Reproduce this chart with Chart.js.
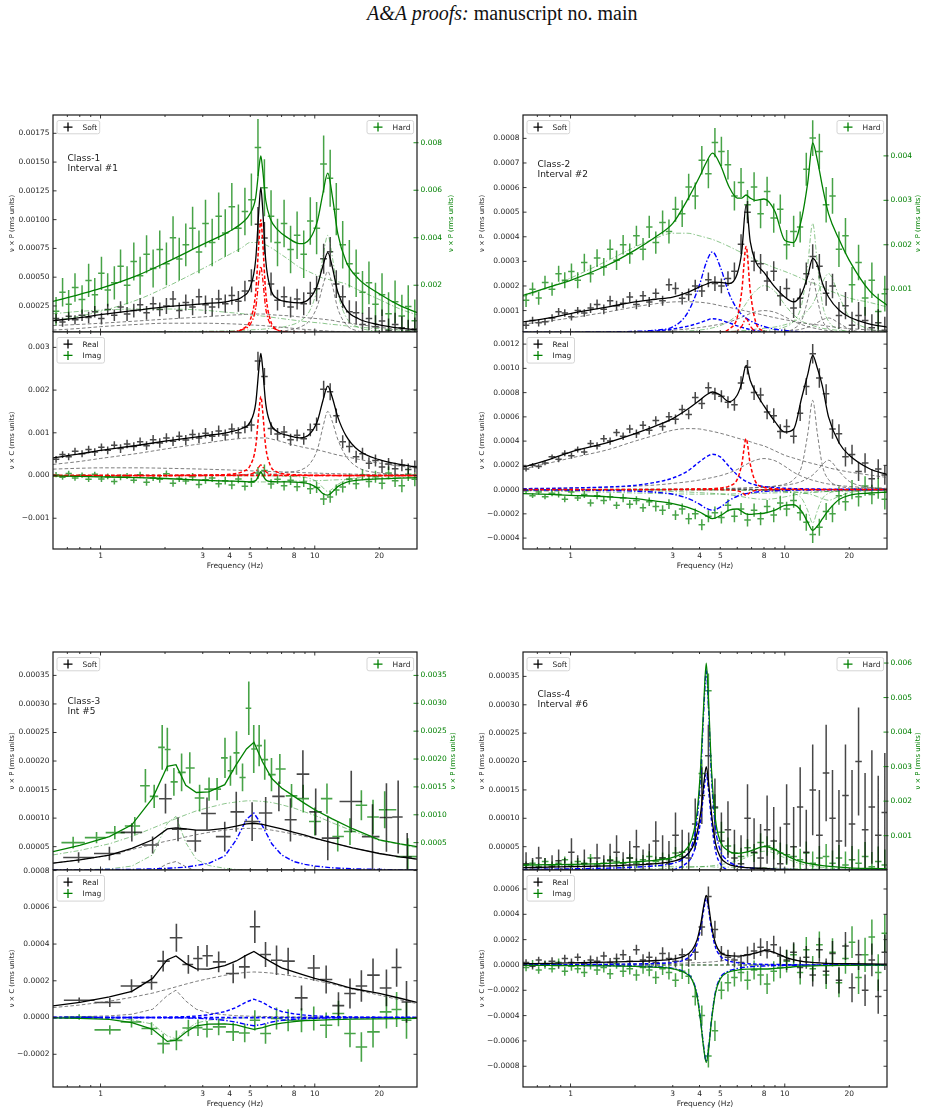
<!DOCTYPE html>
<html>
<head>
<meta charset="utf-8">
<script src="https://cdn.jsdelivr.net/npm/chart.js@4.4.0/dist/chart.umd.min.js"></script>
<style>
  body { margin: 0; width: 927px; height: 1113px; overflow: hidden; background: #fff; position: relative; }
  canvas { position: absolute; }
  #title { position: absolute; left: 367px; top: 2px; font-family: 'Liberation Serif', serif; font-size: 20px; white-space: nowrap; color: #111; }
</style>
</head>
<body>
<div id="title"><i>A&amp;A proofs:</i> manuscript no. main</div>
<script>
// units: soft power / cross values are in 1e-5, hard power in 1e-4 (rms units)
const U5 = 1e-5, U4 = 1e-4;

// frequency bins (Hz) of the dense spectra (classes 1, 2 and 4)
const freq = [0.62,0.665,0.71,0.76,0.82,0.88,0.94,1.01,1.08,1.16,1.24,1.33,1.43,1.53,1.64,1.76,1.89,2.03,2.18,2.33,2.50,2.69,2.88,3.09,3.32,3.56,3.82,4.10,4.40,4.72,5.06,5.43,5.82,6.25,6.70,7.19,7.71,8.27,8.88,9.53,10.2,11.0,11.8,12.6,13.5,14.5,15.6,16.7,17.9,19.2,20.6,22.1,23.7,25.5,27.3,29.3];
const zeroX = [0.6, 30], zeroY = [0, 0];

// ---------- Class-1, interval #1 ----------
const c1Soft = [14,11,16,13,17,15,20,14,22,17,24,18,21,26,19,27,22,25,31,21,28,24,33,26,24,31,27,34,29,38,47,96,84,44,30,33,24,31,27,36,40,66,72,44,33,20,19,9,14,7,12,4,9,6,3,5];
const c1SoftErr = [4,4,4,4,5,5,5,5,5,5,5,6,6,6,6,6,6,7,7,7,7,7,7,8,8,8,8,8,9,9,10,15,14,10,9,9,9,9,10,10,11,13,13,12,10,10,10,10,10,10,10,10,10,10,10,10];
const c1Hard = [9,17,12,19,14,22,16,25,18,21,28,20,30,24,33,27,35,29,40,31,37,44,34,46,38,49,42,53,44,51,56,78,61,49,38,46,35,41,33,47,44,71,65,52,37,29,25,17,21,12,16,8,13,7,11,5];
const c1HardErr = [6,6,6,6,6,7,7,7,7,7,7,8,8,8,8,8,8,9,9,9,9,9,9,10,10,10,10,10,10,10,11,12,12,11,10,10,10,10,10,10,11,12,12,11,10,10,10,9,9,9,9,9,9,9,9,9];
const c1Real = [38,49,44,57,51,61,55,66,59,71,63,74,68,79,70,84,76,88,80,92,83,96,88,99,92,104,95,109,100,113,118,268,232,110,97,102,84,94,86,107,120,202,196,140,79,68,44,51,29,35,20,27,16,24,14,21];
const c1RealErr = [8,8,8,8,8,9,9,9,9,9,10,10,10,10,10,11,11,11,11,11,12,12,12,12,12,13,13,13,13,14,15,22,20,15,14,14,14,14,14,15,16,20,20,17,15,14,14,14,14,14,14,14,14,14,14,14];
const c1Imag = [2,-4,5,-6,1,-9,3,-8,-2,-14,-4,-1,-11,2,-16,-5,-9,4,-18,-7,-13,-3,-21,-10,-6,-19,-12,-22,-8,-25,-16,6,12,-20,-9,-24,-11,-26,-15,-31,-28,-55,-50,-34,-27,-8,-19,2,-14,-3,-18,6,-12,-24,3,-9];
const c1ImagErr = [6,6,6,6,6,6,6,7,7,7,7,7,7,7,8,8,8,8,8,8,8,9,9,9,9,9,9,10,10,10,11,14,14,11,11,11,11,11,12,12,13,14,14,13,13,13,13,13,14,14,14,15,15,15,16,16];
const c1ModelF = [0.6,0.8,1,1.5,2,3,4,4.6,5,5.3,5.5,5.6,5.7,5.9,6.2,6.7,7.5,8.5,9.5,10.3,10.9,11.5,12.1,12.8,14,16,20,25,30];
const c1SoftFit = [12.2,14.8,17.4,21.5,24.2,26.9,29.3,33.1,41.4,65.4,112,128,112,65.2,40.6,31.2,28.6,27.7,31.9,43.5,59.5,71.4,58,37.1,21.8,13.9,8.6,5.7,4.3];
const c1SoftBroadA = [8,9,10,12,13.5,15.5,17,17.5,18,18,18,18,18,18,17.5,17,16.5,15.5,14.5,14,13.5,13,12.5,11.5,10.5,9,6.5,4.5,3.5];
const c1SoftBroadB = [4,5.5,7,9,10,10,9.5,9,8.5,8.3,8.1,8,8,7.7,7.3,6.8,6,5,4.3,3.8,3.5,3.2,3,2.7,2.3,1.8,1.2,0.8,0.5];
const c1SoftQpo = [0,0,0,0,0.1,0.5,1.5,5,13,37,84,100,84,37,13,4.2,1.5,0.7,0.4,0.3,0.2,0.2,0.2,0.1,0.1,0,0,0,0];
const c1SoftHump = [0.2,0.3,0.3,0.4,0.5,0.8,1.1,1.4,1.6,1.8,1.9,1.9,2,2.1,2.4,2.7,3.9,6.5,12.7,25.4,42.3,55,42.3,22.8,8.9,3.1,0.9,0.4,0.3];
const c1HardFit = [13.2,16.2,18.7,24.3,29.4,37.2,42.7,46.4,50.3,57,70.1,74.5,69.5,55.9,48,43.4,39.9,37.5,39.6,47.2,58.5,67.2,57,41.8,30,22.7,16.4,11.4,8.5];
const c1HardBroadA = [5,7,9,14,19,27,33,36,38,38,38,38,37.5,37,36,34,31,27.5,25.5,24,23,22.5,22,21.5,20.5,18,14,10,7.5];
const c1HardBroadB = [8,9,9.5,10,10,9.5,8.5,8,7.5,7.3,7.2,7.1,7,6.9,6.6,6.2,5.6,5,4.5,4.2,4,3.7,3.5,3.3,2.9,2.4,1.7,1.1,0.8];
const c1HardHump = [0.15,0.2,0.2,0.3,0.4,0.6,0.8,1,1.2,1.3,1.4,1.4,1.5,1.6,1.8,2,2.9,4.8,9.5,19,31.5,41,31.5,17,6.6,2.3,0.7,0.3,0.2];
const c1HardQpo = [0,0,0,0,0,0.1,0.4,1.4,3.6,10.4,23.5,28,23.5,10.4,3.6,1.2,0.4,0.2,0.1,0,0,0,0,0,0,0,0,0,0];
const c1RealFit = [41.5,50.6,58.7,70.9,80.3,92.4,101.8,110.6,125.6,169,256,286,256,169,122.4,102.6,93.8,88.3,97.9,128.2,174.6,209.2,180.9,137.3,92.8,58.9,37,25.9,19.5];
const c1RealBroadA = [26,33,40,52,62,75,84,87,88,88,88,88,88,88,86,82,75,68,63,60,57,54,51,48,44,38,29,22,17];
const c1RealBroadB = [15,17,18,18,17,15,13,12,11,10.5,10.3,10.2,10,9.8,9.4,8.8,8,7,6.2,5.6,5.2,4.8,4.5,4.1,3.6,2.9,2,1.4,1];
const c1RealQpo = [0,0,0,0,0.2,0.9,2.8,9.3,24,68,155,185,155,68,24,7.8,2.8,1.3,0.7,0.6,0.4,0.4,0.4,0.2,0.2,0,0,0,0];
const c1RealHump = [0.5,0.6,0.7,0.9,1.1,1.5,2,2.3,2.6,2.8,2.9,3,3,3,3,4,8,12,28,62,112,150,125,85,45,18,6,2.5,1.5];
const c1ImagFit = [-1,-2,-3,-5,-7,-11,-13,-14,-15,-12,2,9,2,-10,-14,-15,-15,-16,-20,-30,-42,-46,-38,-26,-16,-11,-8,-6,-5];
const c1ImagQpo = [0,0,0,0,0,0.1,0.4,1.3,3.3,9.3,21,25,21,9.3,3.3,1,0.4,0.2,0.1,0,0,0,0,0,0,0,0,0,0];
const c1ImagBroad = [-1,-2,-3,-5,-7,-11,-13,-14,-15,-15,-15,-15,-15,-15,-14.5,-14,-13.5,-13,-12.5,-12,-11.5,-11,-10.5,-10,-9,-8,-6.5,-5,-4];
const c1ImagHump = [-0.1,-0.2,-0.2,-0.2,-0.3,-0.4,-0.5,-0.6,-0.7,-0.7,-0.7,-0.8,-0.8,-0.8,-0.8,-1,-2,-3,-7,-15.5,-28,-37.5,-31,-21,-11,-4.5,-1.5,-0.6,-0.4];

// ---------- Class-2, interval #2 ----------
const c2Soft = [4,6,5,5.5,7,9.5,9,7.5,10,9,11,12.5,10.5,14,12,13,15.5,12.5,16,13.5,17,14,20.5,19,15,16.5,20,18,22.5,21,20,23,26,37,50,30,29,22,26,16,19,11,15,25,32,28,17,20,8,12,4,8,6,3,5,2];
const c2SoftErr = [1.5,1.5,1.5,1.5,1.5,1.5,1.5,1.5,1.5,1.5,2,2,2,2,2,2,2,2,2,2,2,2,2.5,2.5,2.5,2.5,2.5,2.5,3,3,3,3,3.5,4,4.5,4,4,4,4,4,4,4,4,4.5,5,5,5,5,5.5,5.5,5.5,5.5,5.5,5.5,5.5,5.5];
const c2Hard = [7.5,10,8,11.5,10,13.5,12,14,12,16,13.5,17,15,19,16.5,20,18,22,19,24,20.5,25,23,28,27,33,31,39,36,43,41,38,31,34,29,33,27,32,26,28,20,23,24,37,44,41,29,31,19,22,11,16,8,12,5,9];
const c2HardErr = [1.5,1.5,1.5,1.5,1.5,1.8,1.8,1.8,1.8,2,2,2,2,2.2,2.2,2.2,2.3,2.3,2.5,2.5,2.5,2.7,2.7,2.8,3,3,3,3.2,3.3,3.3,3.3,3.3,3.3,3.3,3.3,3.3,3.3,3.3,3.3,3.3,3.3,3.5,3.5,3.7,4,4,4,4,4,4,4,4,4,4,4,4];
const c2Real = [17,20,19,22,27,25,30,28,33,31,38,36,42,40,47,44,50,46,53,49,57,52,60,58,66,62,76,71,84,79,77,72,70,88,101,80,78,64,61,48,52,44,63,85,112,92,79,50,46,27,29,15,22,9,17,12];
const c2RealErr = [2,2,2,2,2,2.5,2.5,2.5,2.5,2.5,3,3,3,3,3,3,3.5,3.5,3.5,3.5,3.5,3.5,4,4,4,4,4.5,4.5,4.5,5,5,5,5,5.5,6,6,6,6,6,6,6,6,6.5,7,8,8,8,8,8,8,8,8,8,8,8,8];
const c2Imag = [-1,-5,-2,-6,-3,-4,-8,-2,-7,-4,-11,-5,-9,-6,-13,-7,-12,-9,-15,-10,-14,-17,-12,-21,-16,-24,-20,-29,-22,-19,-23,-13,-22,-16,-25,-17,-24,-14,-21,-11,-16,-9,-19,-27,-37,-31,-18,-20,-5,-10,0,-6,3,-4,1,-8];
const c2ImagErr = [2,2,2,2,2.5,2.5,2.5,2.5,2.5,3,3,3,3,3,3,3.5,3.5,3.5,3.5,3.5,4,4,4,4,4.5,4.5,4.5,4.5,5,5,5,5,5,5,5.5,5.5,5.5,5.5,6,6,6,6,6.5,7,7,7,7,7,7.5,7.5,8,8,8,8,8.5,8.5];
const c2ModelF = [0.6,0.8,1,1.5,2,2.5,3,3.5,4,4.3,4.6,5,5.5,6,6.3,6.6,6.9,7.3,8,9,10,11,12,12.8,13.5,14.2,15,16,18,20,25,30];
const c2SoftFit = [5.4,7,8.8,11.5,13.5,14.6,15.5,17.3,19.6,20.7,21.6,21.5,21,25,34,53,38,30,25.5,19.5,15.5,13.5,17,24,31.2,28.5,21,15.5,10,7.4,4.5,3.3];
const c2SoftBroad = [4.5,5.8,7,9.5,11.5,12.8,13.5,13.6,13.4,13.1,12.7,12,11.3,10.6,10.2,9.8,9.4,8.9,8.1,7.1,6.3,5.6,5,4.7,4.4,4.2,4,3.6,3.1,2.7,2.1,1.7];
const c2SoftBlue = [0.3,0.4,0.5,0.8,1.2,1.7,2.5,3.6,5,6,6.7,6.2,5,3.8,3.2,2.7,2.3,1.9,1.4,1,0.8,0.6,0.5,0.4,0.4,0.3,0.3,0.3,0.2,0.2,0.1,0.1];
const c2SoftRed = [0,0,0,0,0.1,0.1,0.2,0.3,0.4,0.5,0.7,1.1,2.5,7.2,18,36,18,5.6,1.6,0.6,0.3,0.2,0.2,0.1,0.1,0.1,0.1,0,0,0,0,0];
const c2SoftMid = [0.3,0.4,0.5,0.8,1.1,1.5,2,2.5,3.1,3.5,3.9,4.5,5.4,6.5,7.3,8.1,8.8,9.5,10,9.3,7.5,5.6,4.3,3.5,3,2.6,2.2,1.8,1.3,1,0.6,0.4];
const c2SoftQpo = [0,0,0,0,0.1,0.1,0.1,0.1,0.2,0.2,0.2,0.2,0.3,0.3,0.3,0.4,0.4,0.5,0.6,0.9,1.4,2.6,6.1,14.4,23,14.4,6.1,2.6,0.9,0.4,0.2,0.1];
const c2SoftHigh = [0,0,0,0,0,0,0.1,0.1,0.1,0.1,0.2,0.2,0.3,0.3,0.4,0.4,0.5,0.6,0.8,1.1,1.4,1.9,2.5,3.2,4.1,5.1,6.3,7,4.8,2.5,0.7,0.3];
const c2HardFit = [8.6,10.5,12,15.5,18.8,21.8,24.8,30,35.3,38.5,40.6,38,33,30.5,30.5,31.2,30.5,30,30.3,27.5,21,20.5,26,34,42.9,39,33,27,21,16.5,9.5,6.4];
const c2HardBroad = [8.3,10.5,12.5,16.5,19.5,21.5,22.6,22.6,22,21.6,21.2,20.5,19.6,18.7,18.2,17.7,17.2,16.6,15.8,14.8,14,13.2,12.4,11.8,11.4,11,10.5,9.8,8.8,8,7,6];
const c2HardBlue = [0.3,0.3,0.3,0.4,0.5,0.8,1.5,4.5,11,16,18.4,15,9,5.5,4.3,3.5,2.9,2.3,1.6,1,0.7,0.5,0.4,0.3,0.3,0.3,0.2,0.2,0.2,0.1,0.1,0.1];
const c2HardRed = [0,0,0,0,0,0,0,0,0,0,0.1,0.1,0.2,0.7,1.7,3.4,1.7,0.5,0.2,0.1,0,0,0,0,0,0,0,0,0,0,0,0];
const c2HardMid = [0,0,0,0.1,0.2,0.3,0.4,0.6,0.8,1,1.3,1.8,2.8,4.2,5.4,6.8,8.2,9.6,10.8,9.5,6.5,4.2,2.8,2.2,1.8,1.5,1.2,1,0.7,0.5,0.3,0.2];
const c2HardQpo = [0,0,0,0,0.1,0.1,0.1,0.1,0.2,0.2,0.2,0.2,0.3,0.3,0.3,0.4,0.4,0.5,0.6,1,1.5,2.8,6.6,15.6,24.8,15.6,6.6,2.8,1,0.4,0.2,0.1];
const c2HardHigh = [0,0,0,0.1,0.1,0.1,0.2,0.2,0.3,0.3,0.3,0.4,0.5,0.6,0.7,0.7,0.8,1,1.2,1.5,2,2.7,3.8,5.2,6.7,8.9,11.6,13.5,8.2,3.8,1,0.4];
const c2RealFit = [18.6,25,31,39,46.2,52.5,58.6,66,73.6,78,80.5,78,72.5,78,88,102.5,90,80.5,69,56,47.5,50,76,95,110.8,100,85,60,38,28.3,17,12.6];
const c2RealBroad = [17,22,26,33,40,45,49,50.3,50,49,48,46.5,44.5,42.5,41.5,40.5,39.5,38,36,32,28.3,26,24,22.5,21.5,20.5,19.5,18,16,14.5,12,10];
const c2RealBlue = [0.8,1,1.3,2.2,3.5,6,9.5,15,23,27,29.1,27,19,12,9,6.8,5.2,3.8,2.5,1.6,1.1,0.8,0.7,0.6,0.5,0.5,0.4,0.4,0.3,0.3,0.2,0.2];
const c2RealRed = [0,0,0,0,0.1,0.1,0.2,0.4,0.5,0.6,0.8,1.3,2.9,8.4,21,42,21,6.5,1.9,0.7,0.4,0.2,0.2,0.1,0.1,0.1,0.1,0,0,0,0,0];
const c2RealMid = [0.8,1,1.3,2,2.8,3.8,5.1,6.4,7.9,9,10,11.5,13.8,16.6,18.7,20.7,22.5,24.3,25.6,23.8,19.2,14.3,11,9,7.7,6.7,5.6,4.6,3.3,2.6,1.5,1];
const c2RealQpo = [0,0,0,0,0.3,0.3,0.3,0.3,0.6,0.6,0.6,0.6,1,1,1,1.3,1.3,1.6,1.9,2.9,4.5,8.3,19.5,46,73.6,46,19.5,8.3,2.9,1.3,0.6,0.3];
const c2RealHigh = [0,0,0,0.2,0.2,0.2,0.4,0.4,0.5,0.5,0.5,0.7,0.9,1.1,1.3,1.3,1.4,1.8,2.1,2.7,3.6,4.8,6.8,9.3,12,15.9,20.8,24.2,14.7,6.8,1.8,0.7];
const c2ImagFit = [-3.3,-4,-4.7,-6,-7.4,-9.5,-11.5,-14.5,-18.5,-21.5,-24,-21.5,-17,-16,-18,-20,-20.5,-20,-19.5,-17,-13,-12.5,-18,-27,-33.6,-30,-24,-17,-8,-4.7,-2.8,-2];
const c2ImagBlue = [-0.3,-0.4,-0.5,-0.8,-1.3,-2.2,-3.8,-7,-12,-15.5,-17,-14.5,-9,-5.5,-4.2,-3.3,-2.7,-2.1,-1.5,-1,-0.7,-0.5,-0.4,-0.3,-0.3,-0.3,-0.2,-0.2,-0.2,-0.1,-0.1,-0.1];
const c2ImagRed = [0,0,0,0,0,0,0,0,0,0,0,-0.1,-0.3,-0.9,-2.3,-4.7,-2.3,-0.7,-0.2,-0.1,0,0,0,0,0,0,0,0,0,0,0,0];
const c2ImagBroad = [-1,-1.3,-1.6,-2.2,-2.8,-3.2,-3.5,-3.7,-3.8,-3.8,-3.8,-3.7,-3.6,-3.5,-3.4,-3.3,-3.2,-3.1,-2.9,-2.7,-2.5,-2.3,-2.1,-2,-1.9,-1.8,-1.7,-1.6,-1.4,-1.2,-0.9,-0.7];
const c2ImagMid = [-0.2,-0.3,-0.4,-0.6,-0.9,-1.2,-1.6,-2,-2.5,-2.8,-3.1,-3.6,-4.3,-5.2,-5.8,-6.5,-7,-7.6,-8,-7.4,-6,-4.5,-3.4,-2.8,-2.4,-2.1,-1.8,-1.4,-1,-0.8,-0.5,-0.3];
const c2ImagQpo = [0,0,0,0,-0.1,-0.1,-0.1,-0.1,-0.2,-0.2,-0.2,-0.2,-0.4,-0.4,-0.4,-0.5,-0.5,-0.6,-0.7,-1.1,-1.7,-3.1,-7.3,-17.3,-27.6,-17.3,-7.3,-3.1,-1.1,-0.5,-0.2,-0.1];
const c2ImagHigh = [0,0,0,-0.1,-0.1,-0.1,-0.1,-0.1,-0.2,-0.2,-0.2,-0.3,-0.3,-0.4,-0.5,-0.5,-0.5,-0.7,-0.8,-1,-1.3,-1.8,-2.5,-3.4,-4.4,-5.8,-7.5,-8.8,-5.3,-2.5,-0.7,-0.3];

// ---------- Class-3, int #5 (coarse bins) ----------
const c3SoftF = [0.79,1.1,1.4,1.75,2.01,2.3,2.77,3.14,3.8,4.3,5.1,5.9,6.8,7.7,8.8,10.1,11.5,14.8,18.6,21.6,24.5,27];
const c3Soft = [3.1,3.8,7.5,5.3,13.4,8.05,6.0,10.8,6.75,11.1,9.4,10.9,13.8,9.7,17.7,11.1,6.5,12.9,6.75,10.1,10.2,3.2];
const c3SoftErr = [0.9,1.2,1.6,1.5,2.6,2.1,1.9,2.8,2.6,3.5,3.4,2.8,2.6,3.8,4.2,4.1,3.9,5.4,5.7,6,6.4,4.2];
const c3HardF = [0.745,0.958,1.166,1.445,1.62,1.78,1.94,2.05,2.2,2.39,2.61,2.9,3.21,3.5,3.81,4.04,4.31,4.6,4.92,5.19,5.5,5.84,6.28,6.87,7.79,8.83,10,11.4,12.8,14.6,16.5,18.7,21.2,27.2];
const c3Hard = [5.0,5.9,6.8,8.0,15.2,13.3,22.1,21.7,15.9,17.6,18.4,13.0,14.6,14.6,20.2,17.9,21.1,16.7,29.1,21.8,22.4,19.9,17.2,18.2,13.4,12.9,8.8,12.9,6.1,7.0,11.7,9.6,10.9,2.5];
const c3HardErr = [1.05,1,1.2,1.6,3,2.1,4,3.9,2.5,3.4,2.8,2.4,2.1,2,3.6,2.7,3.9,2.5,4.8,4.3,3.7,3.6,3,2.7,2.1,2.5,2.5,2.7,2.7,2.4,2.7,3.1,3.3,3.3];
const c3CrossF = [0.795,1.105,1.395,1.73,1.96,2.26,2.57,2.85,3.14,3.56,4.16,4.71,5.25,5.89,6.63,7.51,8.67,9.89,11.3,12.9,14.6,16.5,18.7,21.6,24.1,26.8];
const c3Real = [9.4,8.2,17.2,19.1,30.7,43.4,28.9,32.1,33.6,30.3,24,27.6,49.4,34.3,31.2,30.7,10.7,27,20.7,6.5,13.1,17.2,23.1,16.1,27.2,8.5];
const c3RealErr = [1.5,2.5,3.6,4,5.6,7.6,5.1,6.9,5.9,5.6,5.4,6.4,8.8,6.8,8,7.3,6.8,7,7.6,7.3,8.2,8.6,9,10,10.4,11.4];
const c3Imag = [0.3,-6.7,-2.4,-6,-14.2,-12.4,-5.7,-5.5,-6.4,-5.1,-7.8,-8.4,-1.5,-8.7,-0.5,-1.5,-1.5,-0.5,-4.2,2.2,-8.7,-16,-7.8,3.1,4.4,-1.5];
const c3ImagErr = [1.5,2.5,3,3.5,5.4,5.4,4.5,4.5,4.5,4.5,5,5,5.5,5.5,6,6,6.5,6.5,7,7,7.5,8,8.5,9,9.5,10];
const c3ModelF = [0.6,0.8,1.1,1.4,1.75,2.05,2.25,2.5,2.8,3.2,3.8,4.3,4.8,5.2,5.7,6.3,7,8,9,10,12,15,20,25,30];
const c3SoftFit = [2.1,2.7,3.5,4.7,6.2,8.1,8.3,8.1,7.9,7.9,8.2,8.6,9,9.1,8.9,8.5,8.1,7.5,7,6.5,5.7,4.8,3.8,3.2,2.8];
const c3SoftBroad = [2.1,2.7,3.5,4.5,5.4,6,6.3,6.7,7.1,7.5,7.9,8.1,8.2,8.2,8.1,7.9,7.6,7.2,6.8,6.4,5.7,4.8,3.8,3.2,2.8];
const c3SoftQpo = [0,0,0,0.1,0.6,2,2.4,1.5,0.7,0.3,0.2,0.1,0.1,0,0,0,0,0,0,0,0,0,0,0,0];
const c3HardFit = [3.4,4.5,6.1,8.2,13,18.7,19,15.3,14,14.1,15.4,19,21.8,23,19.5,16.5,14.8,13.3,12,10.9,9.3,7.5,5.5,4.8,4.3];
const c3HardBroad = [2.8,3.6,4.8,6.1,7.6,8.7,9.3,10,10.7,11.3,12,12.3,12.5,12.5,12.4,12.2,11.8,11.2,10.5,9.9,8.6,7.1,5.4,4.7,4.1];
const c3HardQpo = [0,0.1,0.3,0.8,2.8,8.5,9.7,5,2,0.9,0.4,0.2,0.1,0.1,0,0,0,0,0,0,0,0,0,0,0];
const c3HardBlue = [0.1,0.1,0.2,0.2,0.3,0.4,0.5,0.6,0.9,1.3,2.6,5.5,9.2,10.3,8,4.8,2.8,1.6,1.1,0.8,0.5,0.3,0.2,0.1,0.1];
const c3RealFit = [6.3,8.3,11.2,14.3,21.3,31.5,33.5,29.5,26.5,26.3,28.3,30.8,34,36,33,30,27,24.8,23,21.3,19,15.8,13.1,10.5,8.3];
const c3RealBroad = [5.4,6.8,8.9,11,13.3,15.4,16.7,18.2,19.7,21.2,23,24,24.6,24.8,24.6,24.2,23.5,22.5,21.4,20.3,18.3,15.5,12.2,9.6,7.6];
const c3RealQpo = [0.3,0.5,0.9,1.8,4.5,12,14.9,9,4.5,2.5,1.5,1,0.8,0.7,0.6,0.5,0.4,0.3,0.3,0.2,0.2,0.1,0.1,0,0];
const c3RealBlue = [0,0,0,0,0.1,0.2,0.3,0.5,0.8,1.5,3.2,5.5,8.5,10,8.3,5.3,3.3,2,1.3,0.9,0.5,0.3,0.1,0.1,0];
const c3ImagFit = [-0.2,-0.5,-1,-2.8,-6.4,-13,-12.3,-8,-4.5,-3.6,-3.5,-4,-5.5,-6.4,-5.5,-4,-3,-2.2,-1.7,-1.5,-1.1,-0.9,-0.7,-0.6,-0.5];
const c3ImagQpo = [0,-0.1,-0.3,-1.2,-3.6,-10,-11.6,-6.8,-3,-1.4,-0.6,-0.3,-0.2,-0.1,0,0,0,0,0,0,0,0,0,0,0];
const c3ImagBlue = [0,0,0,0,0,-0.1,-0.1,-0.2,-0.4,-0.7,-1.5,-2.5,-3.8,-4.5,-3.7,-2.4,-1.5,-0.9,-0.6,-0.4,-0.2,-0.1,0,0,0];

// ---------- Class-4, interval #6 ----------
const c4Soft = [2,1,3,1,1.5,2.5,1,4,1,2,0.5,3,1,2.5,4,1,3,5,1,2,6,3,2,7,4,3,9,14,21,12,6,8,3,2,10,4,3,8,6,2,9,5,12,4,15,7,18,10,6,14,9,20,8,12,7,11];
const c4SoftErr = [2,2,2,2,2,2,2,2.5,2.5,2.5,2.5,2.5,2.5,3,3,3,3,3,3.5,3.5,3.5,4,4,4,4,4.5,4.5,5,5.5,5,5,5,5,5,6,6,6,6,6,6.5,7,7,7,7.5,8,8,8.5,8.5,9,9,9.5,9.5,10,10,10.5,10.5];
const c4Hard = [1.5,2,1,2.5,1.5,2,3,1.5,2.5,2,3.5,1.5,2,3,2.5,2,3.5,2,3,4,2.5,3.5,3,5,4,6,9,28,52,18,11,7,5,4,6.5,5,8,7,6,5,4.5,4,3,5,2,3.5,4,2,3.5,1.5,3,2,4,1,2.5,1.5];
const c4HardErr = [1,1,1,1,1,1,1,1,1,1,1.2,1.2,1.2,1.2,1.3,1.3,1.3,1.4,1.4,1.5,1.5,1.6,1.6,1.7,1.8,2,2.5,4,5,4,3,2.5,2.5,2.5,2.5,2.6,2.7,2.8,2.9,3,3,3.1,3.2,3.3,3.4,3.5,3.6,3.7,3.8,3.9,4,4.1,4.2,4.3,4.4,4.5];
const c4Real = [2,-1,4,1,3,0,5,2,6,1,4,3,7,2,5,8,3,12,4,6,2,9,5,3,8,4,10,30,54,28,9,6,4,2,8,11,14,12,16,7,4,10,-2,6,-8,12,-5,9,-12,15,-18,8,-20,4,-25,10];
const c4RealErr = [2.5,2.5,2.5,2.5,3,3,3,3,3,3,3.5,3.5,3.5,3.5,4,4,4,4,4.5,4.5,4.5,5,5,5,5,5.5,6,7,8,7,6,6,6,6,6.5,6.5,7,7,7,7.5,8,8,8.5,9,9,9.5,10,10,10.5,11,11.5,12,12.5,13,13.5,14];
const c4Imag = [-2,1,-4,0,-3,2,-5,-1,-3,-6,0,-4,-2,-7,1,-5,-3,-8,-2,-4,-10,-3,-6,-12,-5,-9,-25,-40,-72,-52,-20,-14,-10,-6,-12,-4,-8,-15,-5,-2,3,8,-6,12,-3,16,-8,10,-14,5,18,-10,8,22,-6,25];
const c4ImagErr = [3,3,3,3,3,3,3.5,3.5,3.5,3.5,3.5,4,4,4,4,4.5,4.5,4.5,5,5,5,5,5.5,5.5,6,6,7,8,9,8,7,7,7,7,7.5,7.5,8,8,8,8.5,9,9,9.5,10,10,10.5,11,11,11.5,12,12.5,13,13.5,14,14.5,15];
const c4ModelF = [0.6,0.8,1,1.5,2,2.5,3,3.4,3.7,3.9,4.05,4.2,4.3,4.4,4.55,4.75,5,5.4,6,6.7,7.5,8,8.7,9.5,10.5,12,15,20,25,30];
const c4SoftFit = [1.3,1.4,1.5,1.6,1.8,2,2.4,3.2,4.8,7.5,11,16.5,19.1,16.5,10.8,5.6,3.2,2,1.5,1.3,1.2,1.2,1.1,1,1,0.9,0.8,0.7,0.6,0.5];
const c4SoftBlue = [0,0.05,0.1,0.15,0.3,0.5,0.9,1.8,3.4,6.2,9.7,15.2,17.8,15.2,9.5,4.3,2,0.9,0.4,0.2,0.1,0.1,0,0,0,0,0,0,0,0];
const c4HardFit = [1.5,1.6,1.7,2,2.4,2.9,3.7,5.5,9.5,17,30,50,60,50,29,14.5,8.4,5.8,4.9,5.3,6.4,6.8,6.4,5.2,3.8,2.4,1.3,0.7,0.5,0.4];
const c4HardBlue = [0.2,0.3,0.4,0.6,0.9,1.3,2,3.6,7.5,15,28,48,58,48,27,12.2,5.8,2.8,1.3,0.7,0.5,0.4,0.3,0.2,0.2,0.1,0.1,0,0,0];
const c4HardHump = [0,0,0.1,0.2,0.3,0.4,0.6,0.8,0.9,1,1,1.1,1.1,1.2,1.3,1.4,1.6,2,2.7,3.8,5,5.5,5.2,4.2,3,1.8,0.8,0.3,0.2,0.1];
const c4HardLow = [1.3,1.3,1.3,1.2,1.2,1.1,1.1,1.1,1,1,1,1,1,1,1,0.9,0.9,0.9,0.8,0.8,0.7,0.7,0.6,0.6,0.5,0.4,0.3,0.2,0.2,0.1];
const c4RealFit = [1,1.3,1.6,2.2,2.8,3.5,4.6,7,12,20,32,48,55,48,31,17,10,7.5,7,8,10,11.3,10.5,8,5,2.8,1.5,1,0.8,0.7];
const c4RealBlue = [0.1,0.2,0.3,0.5,0.8,1.2,2,4,9,17,29,45,53,45,28,14,7,3.5,1.8,1,0.6,0.5,0.4,0.3,0.2,0.1,0.1,0,0,0];
const c4RealHump = [0.2,0.3,0.3,0.5,0.7,0.9,1.2,1.5,1.7,1.8,1.9,2,2.1,2.2,2.4,2.7,3.1,4,5.6,7.6,9.6,10.5,9.8,7.8,5.3,3,1.3,0.5,0.3,0.2];
const c4ImagFit = [-0.3,-0.4,-0.5,-0.8,-1.2,-1.8,-3,-6,-12,-25,-45,-68,-77,-68,-44,-22,-11,-6,-4,-3.3,-3.2,-3.2,-3,-2.5,-1.8,-1,-0.5,-0.3,-0.2,-0.2];
const c4ImagBlue = [-0.1,-0.2,-0.3,-0.5,-0.9,-1.5,-2.7,-5.7,-11.5,-24,-44,-67,-76,-67,-43,-21,-10,-5.2,-2.8,-1.6,-1,-0.8,-0.6,-0.4,-0.3,-0.2,-0.1,0,0,0];

// axis ticks
const freqLabels = [1, 3, 4, 5, 8, 10, 20];
const freqMajor = [1, 10];
const freqMinor = [0.6, 0.7, 0.8, 0.9, 2, 3, 4, 5, 6, 7, 8, 9, 20, 30];

// ---------- drawing helpers ----------
const GREEN = '#008000';
const LGREEN = 'rgba(0,128,0,0.5)';
const GREY = 'rgba(85,85,85,0.85)';
const SOFT_BAR = 'rgba(0,0,0,0.72)';
const HARD_BAR = 'rgba(0,128,0,0.72)';
const FONT = '"DejaVu Sans"';

Chart.defaults.font.family = 'DejaVu Sans';
Chart.defaults.font.size = 7.5;
Chart.defaults.color = '#262626';

function toPoints(xs, ys, u) {
  return xs.map((x, i) => ({ x: x, y: ys[i] * u }));
}

function binEdges(xs) {
  const lo = [], hi = [];
  for (let i = 0; i < xs.length; i++) {
    const l = i > 0 ? Math.sqrt(xs[i - 1] * xs[i]) : xs[i] * xs[i] / Math.sqrt(xs[i] * xs[i + 1]);
    const h = i < xs.length - 1 ? Math.sqrt(xs[i] * xs[i + 1]) : xs[i] * xs[i] / Math.sqrt(xs[i - 1] * xs[i]);
    lo.push(l); hi.push(h);
  }
  return [lo, hi];
}

function bars(xs, ys, es, u, color, axis, lw, order) {
  const [lo, hi] = binEdges(xs);
  return {
    type: 'scatter', data: toPoints(xs, ys, u), yAxisID: axis,
    errY: es.map(e => e * u), xLo: lo, xHi: hi, errColor: color, errWidth: lw,
    pointRadius: 0, pointHoverRadius: 0, showLine: false, order: order
  };
}

const DASH = { solid: [], dash: [3.6, 2.2], dashdot: [5, 2, 1.4, 2] };
function curve(xs, ys, u, axis, color, style, width, smooth) {
  return {
    type: 'line', data: toPoints(xs, ys, u), yAxisID: axis,
    borderColor: color, borderWidth: width, borderDash: DASH[style],
    pointRadius: 0, pointHoverRadius: 0, fill: false, clip: 0,
    cubicInterpolationMode: smooth ? 'monotone' : 'default', tension: 0,
    order: style === 'solid' ? 1 : 5
  };
}

function fmt(v, d) {
  const s = Math.abs(v) < 1e-12 ? (0).toFixed(d) : v.toFixed(d);
  return s.charAt(0) === '-' ? '\u2212' + s.slice(1) : s;
}

const errPlugin = {
  id: 'errbars',
  beforeDatasetDraw(chart, args) {
    const ds = chart.data.datasets[args.index];
    if (!ds.errY) return;
    const ctx = chart.ctx, a = chart.chartArea;
    const sx = chart.scales.x, sy = chart.scales[ds.yAxisID];
    ctx.save();
    ctx.beginPath();
    ctx.rect(a.left, a.top, a.right - a.left, a.bottom - a.top);
    ctx.clip();
    ctx.strokeStyle = ds.errColor;
    ctx.lineWidth = ds.errWidth;
    ctx.beginPath();
    ds.data.forEach((p, i) => {
      const px = sx.getPixelForValue(p.x), py = sy.getPixelForValue(p.y);
      ctx.moveTo(px, sy.getPixelForValue(p.y - ds.errY[i]));
      ctx.lineTo(px, sy.getPixelForValue(p.y + ds.errY[i]));
      ctx.moveTo(sx.getPixelForValue(ds.xLo[i]), py);
      ctx.lineTo(sx.getPixelForValue(ds.xHi[i]), py);
    });
    ctx.stroke();
    ctx.restore();
  }
};

const META = new WeakMap();

function drawLegend(ctx, a, lg) {
  const rows = lg.items.length;
  const w = lg.side === 'left' ? (rows > 1 ? 47.5 : 42.7) : 46.6;
  const h = rows > 1 ? 25.6 : 13.3;
  const x0 = lg.side === 'left' ? a.left + 4 : a.right - 3.4 - w;
  const y0 = a.top + 5.5;
  ctx.save();
  ctx.fillStyle = 'rgba(255,255,255,0.85)';
  ctx.strokeStyle = '#d0d0d0';
  ctx.lineWidth = 0.9;
  ctx.beginPath();
  ctx.roundRect(x0, y0, w, h, 2);
  ctx.fill();
  ctx.stroke();
  ctx.font = '7.5px ' + FONT;
  ctx.textBaseline = 'middle';
  ctx.textAlign = 'left';
  lg.items.forEach((it, k) => {
    const cy = y0 + 6.6 + k * 11.3;
    const cx = x0 + 11;
    ctx.strokeStyle = it[1];
    ctx.lineWidth = 1.3;
    ctx.beginPath();
    ctx.moveTo(cx - 4.5, cy); ctx.lineTo(cx + 4.5, cy);
    ctx.moveTo(cx, cy - 4.5); ctx.lineTo(cx, cy + 4.5);
    ctx.stroke();
    ctx.fillStyle = '#262626';
    ctx.fillText(it[0], x0 + 25.5, cy + 0.5);
  });
  ctx.restore();
}

const framePlugin = {
  id: 'frame',
  afterDraw(chart) {
    const m = META.get(chart.canvas);
    if (!m) return;
    const ctx = chart.ctx, a = chart.chartArea;
    const sx = chart.scales.x, sy = chart.scales.y, sy2 = chart.scales.y2;
    ctx.save();
    const seg = (x0, y0, x1, y1) => { ctx.moveTo(x0, y0); ctx.lineTo(x1, y1); };
    ctx.strokeStyle = '#222';
    ctx.lineWidth = 0.9;
    ctx.beginPath();
    freqMajor.forEach(v => {
      const p = sx.getPixelForValue(v);
      seg(p, a.bottom, p, a.bottom - 3.5); seg(p, a.top, p, a.top + 3.5);
    });
    freqMinor.forEach(v => {
      const p = sx.getPixelForValue(v);
      if (p < a.left + 1 || p > a.right - 1) return;
      seg(p, a.bottom, p, a.bottom - 2); seg(p, a.top, p, a.top + 2);
    });
    m.yTicks.forEach(v => {
      const p = sy.getPixelForValue(v);
      seg(a.left, p, a.left + 3.5, p);
      if (!sy2) seg(a.right, p, a.right - 3.5, p);
    });
    ctx.stroke();
    if (sy2) {
      ctx.strokeStyle = GREEN;
      ctx.beginPath();
      m.y2Ticks.forEach(v => {
        const p = sy2.getPixelForValue(v);
        seg(a.right - 3.5, p, a.right + 1.5, p);
      });
      ctx.stroke();
    }
    ctx.strokeStyle = '#1a1a1a';
    ctx.lineWidth = 1.2;
    ctx.strokeRect(a.left, a.top, a.right - a.left, a.bottom - a.top);

    // axis titles
    ctx.textAlign = 'center';
    ctx.textBaseline = 'middle';
    ctx.font = '6.8px ' + FONT;
    const cy = (a.top + a.bottom) / 2;
    ctx.fillStyle = '#262626';
    ctx.save(); ctx.translate(a.left - 40.5, cy); ctx.rotate(-Math.PI / 2); ctx.fillText(m.yTitle, 0, 0); ctx.restore();
    if (sy2) {
      ctx.fillStyle = GREEN;
      ctx.save(); ctx.translate(a.right + m.rtOff, cy); ctx.rotate(-Math.PI / 2); ctx.fillText(m.y2Title, 0, 0); ctx.restore();
    }
    if (m.xTitle) {
      ctx.fillStyle = '#262626';
      ctx.font = '7.5px ' + FONT;
      ctx.fillText('Frequency (Hz)', (a.left + a.right) / 2, a.bottom + 17.2);
    }
    // annotation
    if (m.note) {
      ctx.font = '9px ' + FONT;
      ctx.textAlign = 'left';
      ctx.fillStyle = '#1a1a1a';
      m.note.forEach((t, k) => ctx.fillText(t, a.left + 14.5, a.top + m.noteY + k * 10));
    }
    m.legends.forEach(lg => drawLegend(ctx, a, lg));
    ctx.restore();
  }
};

function yScale(c, pos, color) {
  return {
    type: 'linear', position: pos, min: c.min, max: c.max,
    grid: { display: false, drawTicks: false }, border: { display: false },
    afterBuildTicks: s => { s.ticks = c.ticks.map(v => ({ value: v })); },
    afterFit: s => { s.width = pos === 'left' ? 53 : 40; s.paddingTop = 0; s.paddingBottom = 0; },
    ticks: { color: color, padding: 3.5, font: { size: 7.5 }, callback: v => fmt(v, c.dec) }
  };
}

function subplot(g) {
  const cv = document.createElement('canvas');
  const W = 53 + (g.R - g.L) + 40;
  const H = 10 + (g.B - g.T) + (g.bottom ? 24 : 0);
  cv.width = W; cv.height = H;
  cv.style.left = (g.L - 53) + 'px';
  cv.style.top = (g.T - 10) + 'px';
  document.body.appendChild(cv);
  META.set(cv, {
    yTicks: g.y.ticks, y2Ticks: g.y2 ? g.y2.ticks : [], yTitle: g.yTitle, y2Title: g.y2Title,
    rtOff: g.rtOff, xTitle: g.bottom, note: g.note, noteY: g.noteY, legends: g.legends
  });
  const scales = {
    x: {
      type: 'logarithmic', min: 0.6, max: 30, display: g.bottom,
      grid: { display: false, drawTicks: false }, border: { display: false },
      afterBuildTicks: s => { s.ticks = freqLabels.map(v => ({ value: v })); },
      afterFit: s => { if (g.bottom) s.height = 24; s.paddingLeft = 0; s.paddingRight = 0; },
      ticks: { autoSkip: false, maxRotation: 0, padding: 3, font: { size: 7.5 }, callback: v => String(v) }
    },
    y: yScale(g.y, 'left', '#262626')
  };
  if (g.y2) scales.y2 = yScale(g.y2, 'right', GREEN);
  new Chart(cv, {
    type: 'scatter',
    data: { datasets: g.datasets },
    options: {
      responsive: false, animation: false, devicePixelRatio: 1, events: [],
      layout: { autoPadding: false, padding: { top: 10, left: 0, right: g.y2 ? 0 : 40, bottom: 0 } },
      plugins: { legend: { display: false }, tooltip: { enabled: false } },
      scales: scales
    },
    plugins: [errPlugin, framePlugin]
  });
}

const softLeg = { side: 'left', items: [['Soft', '#000']] };
const hardLeg = { side: 'right', items: [['Hard', GREEN]] };
const crossLeg = { side: 'left', items: [['Real', '#000'], ['Imag', GREEN]] };
const PT = '\u03bd \u00d7 P (rms units)', CT = '\u03bd \u00d7 C (rms units)';

// ===== Class-1 =====
subplot({
  L: 53, R: 417, T: 115, B: 332, bottom: false,
  y: { min: 0.0000238, max: 0.001909, ticks: [0.00025,0.0005,0.00075,0.001,0.00125,0.0015,0.00175], dec: 5 },
  y2: { min: 0.000031, max: 0.009168, ticks: [0.002,0.004,0.006,0.008], dec: 3 },
  yTitle: PT, y2Title: PT, rtOff: 34, note: ['Class-1', 'Interval #1'], noteY: 43.3, legends: [softLeg, hardLeg],
  datasets: [
    curve(c1ModelF, c1SoftFit, U5, 'y', '#000', 'solid', 1.3, true),
    curve(c1ModelF, c1HardFit, U4, 'y2', GREEN, 'solid', 1.3, true),
    curve(c1ModelF, c1SoftQpo, U5, 'y', 'red', 'dash', 1.5, true),
    curve(c1ModelF, c1HardQpo, U4, 'y2', 'red', 'dashdot', 1.3, true),
    curve(c1ModelF, c1SoftBroadA, U5, 'y', GREY, 'dash', 0.9, true),
    curve(c1ModelF, c1SoftBroadB, U5, 'y', GREY, 'dash', 0.9, true),
    curve(c1ModelF, c1SoftHump, U5, 'y', GREY, 'dash', 0.9, true),
    curve(c1ModelF, c1HardBroadA, U4, 'y2', LGREEN, 'dashdot', 0.9, true),
    curve(c1ModelF, c1HardBroadB, U4, 'y2', LGREEN, 'dashdot', 0.9, true),
    curve(c1ModelF, c1HardHump, U4, 'y2', LGREEN, 'dashdot', 0.9, true),
    bars(freq, c1Soft, c1SoftErr, U5, SOFT_BAR, 'y', 1.5, 20),
    bars(freq, c1Hard, c1HardErr, U4, HARD_BAR, 'y2', 1.5, 21)
  ]
});
subplot({
  L: 53, R: 417, T: 332, B: 549, bottom: true,
  y: { min: -0.00172, max: 0.00336, ticks: [-0.001,0,0.001,0.002,0.003], dec: 3 },
  yTitle: CT, legends: [crossLeg],
  datasets: [
    curve(c1ModelF, c1RealFit, U5, 'y', '#000', 'solid', 1.3, true),
    curve(c1ModelF, c1ImagFit, U5, 'y', GREEN, 'solid', 1.3, true),
    curve(c1ModelF, c1RealQpo, U5, 'y', 'red', 'dash', 1.5, true),
    curve(c1ModelF, c1ImagQpo, U5, 'y', 'red', 'dashdot', 1.3, true),
    curve(zeroX, zeroY, 1, 'y', 'red', 'dash', 1.5, false),
    curve(c1ModelF, c1RealBroadA, U5, 'y', GREY, 'dash', 0.9, true),
    curve(c1ModelF, c1RealBroadB, U5, 'y', GREY, 'dash', 0.9, true),
    curve(c1ModelF, c1RealHump, U5, 'y', GREY, 'dash', 0.9, true),
    curve(c1ModelF, c1ImagBroad, U5, 'y', LGREEN, 'dashdot', 0.9, true),
    curve(c1ModelF, c1ImagHump, U5, 'y', LGREEN, 'dashdot', 0.9, true),
    bars(freq, c1Real, c1RealErr, U5, SOFT_BAR, 'y', 1.5, 20),
    bars(freq, c1Imag, c1ImagErr, U5, HARD_BAR, 'y', 1.5, 21)
  ]
});

// ===== Class-2 =====
subplot({
  L: 523, R: 887, T: 115, B: 332, bottom: false,
  y: { min: 0.0000129, max: 0.000895, ticks: [0.0001,0.0002,0.0003,0.0004,0.0005,0.0006,0.0007,0.0008], dec: 4 },
  y2: { min: 0.0000368, max: 0.00492, ticks: [0.001,0.002,0.003,0.004], dec: 3 },
  yTitle: PT, y2Title: PT, rtOff: 31.6, note: ['Class-2', 'Interval #2'], noteY: 50, legends: [softLeg, hardLeg],
  datasets: [
    curve(c2ModelF, c2SoftFit, U5, 'y', '#000', 'solid', 1.3, true),
    curve(c2ModelF, c2HardFit, U4, 'y2', GREEN, 'solid', 1.3, true),
    curve(c2ModelF, c2SoftRed, U5, 'y', 'red', 'dash', 1.5, true),
    curve(c2ModelF, c2HardRed, U4, 'y2', 'red', 'dashdot', 1.3, true),
    curve(c2ModelF, c2SoftBlue, U5, 'y', 'blue', 'dash', 1.4, true),
    curve(c2ModelF, c2HardBlue, U4, 'y2', 'blue', 'dashdot', 1.4, true),
    curve(c2ModelF, c2SoftBroad, U5, 'y', GREY, 'dash', 0.9, true),
    curve(c2ModelF, c2SoftMid, U5, 'y', GREY, 'dash', 0.9, true),
    curve(c2ModelF, c2SoftQpo, U5, 'y', GREY, 'dash', 0.9, true),
    curve(c2ModelF, c2SoftHigh, U5, 'y', GREY, 'dash', 0.9, true),
    curve(c2ModelF, c2HardBroad, U4, 'y2', LGREEN, 'dashdot', 0.9, true),
    curve(c2ModelF, c2HardMid, U4, 'y2', LGREEN, 'dashdot', 0.9, true),
    curve(c2ModelF, c2HardQpo, U4, 'y2', LGREEN, 'dashdot', 0.9, true),
    curve(c2ModelF, c2HardHigh, U4, 'y2', LGREEN, 'dashdot', 0.9, true),
    bars(freq, c2Soft, c2SoftErr, U5, SOFT_BAR, 'y', 1.5, 20),
    bars(freq, c2Hard, c2HardErr, U4, HARD_BAR, 'y2', 1.5, 21)
  ]
});
subplot({
  L: 523, R: 887, T: 332, B: 549, bottom: true,
  y: { min: -0.00049, max: 0.0013, ticks: [-0.0004,-0.0002,0,0.0002,0.0004,0.0006,0.0008,0.001,0.0012], dec: 4 },
  yTitle: CT, legends: [crossLeg],
  datasets: [
    curve(c2ModelF, c2RealFit, U5, 'y', '#000', 'solid', 1.3, true),
    curve(c2ModelF, c2ImagFit, U5, 'y', GREEN, 'solid', 1.3, true),
    curve(c2ModelF, c2RealRed, U5, 'y', 'red', 'dash', 1.5, true),
    curve(c2ModelF, c2ImagRed, U5, 'y', 'red', 'dash', 1.3, true),
    curve(c2ModelF, c2RealBlue, U5, 'y', 'blue', 'dash', 1.4, true),
    curve(c2ModelF, c2ImagBlue, U5, 'y', 'blue', 'dashdot', 1.4, true),
    curve(zeroX, zeroY, 1, 'y', 'rgba(60,60,60,0.9)', 'dash', 1.3, false),
    curve(c2ModelF, c2RealBroad, U5, 'y', GREY, 'dash', 0.9, true),
    curve(c2ModelF, c2RealMid, U5, 'y', GREY, 'dash', 0.9, true),
    curve(c2ModelF, c2RealQpo, U5, 'y', GREY, 'dash', 0.9, true),
    curve(c2ModelF, c2RealHigh, U5, 'y', GREY, 'dash', 0.9, true),
    curve(c2ModelF, c2ImagBroad, U5, 'y', LGREEN, 'dashdot', 0.9, true),
    curve(c2ModelF, c2ImagMid, U5, 'y', LGREEN, 'dashdot', 0.9, true),
    curve(c2ModelF, c2ImagQpo, U5, 'y', LGREEN, 'dashdot', 0.9, true),
    curve(c2ModelF, c2ImagHigh, U5, 'y', LGREEN, 'dashdot', 0.9, true),
    bars(freq, c2Real, c2RealErr, U5, SOFT_BAR, 'y', 1.5, 20),
    bars(freq, c2Imag, c2ImagErr, U5, HARD_BAR, 'y', 1.5, 21)
  ]
});

// ===== Class-3 =====
subplot({
  L: 53, R: 417, T: 652, B: 870, bottom: false,
  y: { min: 0.0000091, max: 0.000391, ticks: [0.00005,0.0001,0.00015,0.0002,0.00025,0.0003,0.00035], dec: 5 },
  y2: { min: 0.0000095, max: 0.00392, ticks: [0.0005,0.001,0.0015,0.002,0.0025,0.003,0.0035], dec: 4 },
  yTitle: PT, y2Title: PT, rtOff: 36, note: ['Class-3', 'Int #5'], noteY: 49.4, legends: [softLeg, hardLeg],
  datasets: [
    curve(c3ModelF, c3SoftFit, U5, 'y', '#000', 'solid', 1.3, false),
    curve(c3ModelF, c3HardFit, U4, 'y2', GREEN, 'solid', 1.3, false),
    curve(c3ModelF, c3HardBlue, U4, 'y2', 'blue', 'dashdot', 1.4, false),
    curve(c3ModelF, c3SoftBroad, U5, 'y', GREY, 'dash', 0.9, false),
    curve(c3ModelF, c3SoftQpo, U5, 'y', GREY, 'dash', 0.9, false),
    curve(c3ModelF, c3HardBroad, U4, 'y2', LGREEN, 'dashdot', 0.9, false),
    curve(c3ModelF, c3HardQpo, U4, 'y2', LGREEN, 'dashdot', 0.9, false),
    bars(c3SoftF, c3Soft, c3SoftErr, U5, SOFT_BAR, 'y', 1.6, 20),
    bars(c3HardF, c3Hard, c3HardErr, U4, HARD_BAR, 'y2', 1.6, 21)
  ]
});
subplot({
  L: 53, R: 417, T: 870, B: 1087, bottom: true,
  y: { min: -0.000378, max: 0.000803, ticks: [-0.0002,0,0.0002,0.0004,0.0006,0.0008], dec: 4 },
  yTitle: CT, legends: [crossLeg],
  datasets: [
    curve(c3ModelF, c3RealFit, U5, 'y', '#000', 'solid', 1.3, false),
    curve(c3ModelF, c3ImagFit, U5, 'y', GREEN, 'solid', 1.3, false),
    curve(c3ModelF, c3RealBlue, U5, 'y', 'blue', 'dash', 1.4, false),
    curve(c3ModelF, c3ImagBlue, U5, 'y', 'blue', 'dashdot', 1.4, false),
    curve(zeroX, zeroY, 1, 'y', 'blue', 'dash', 1.8, false),
    curve(c3ModelF, c3RealBroad, U5, 'y', GREY, 'dash', 0.9, false),
    curve(c3ModelF, c3RealQpo, U5, 'y', GREY, 'dash', 0.9, false),
    curve(c3ModelF, c3ImagQpo, U5, 'y', LGREEN, 'dashdot', 0.9, false),
    bars(c3CrossF, c3Real, c3RealErr, U5, SOFT_BAR, 'y', 1.6, 20),
    bars(c3CrossF, c3Imag, c3ImagErr, U5, HARD_BAR, 'y', 1.6, 21)
  ]
});

// ===== Class-4 =====
subplot({
  L: 523, R: 887, T: 652, B: 870, bottom: false,
  y: { min: 0.0000089, max: 0.000393, ticks: [0.00005,0.0001,0.00015,0.0002,0.00025,0.0003,0.00035], dec: 5 },
  y2: { min: 0.0000058, max: 0.00632, ticks: [0.001,0.002,0.003,0.004,0.005,0.006], dec: 3 },
  yTitle: PT, y2Title: PT, rtOff: 31.6, note: ['Class-4', 'Interval #6'], noteY: 42.7, legends: [softLeg, hardLeg],
  datasets: [
    curve(c4ModelF, c4SoftFit, U5, 'y', '#000', 'solid', 1.3, true),
    curve(c4ModelF, c4HardFit, U4, 'y2', GREEN, 'solid', 1.3, true),
    curve(c4ModelF, c4SoftBlue, U5, 'y', 'blue', 'dash', 1.4, true),
    curve(c4ModelF, c4HardBlue, U4, 'y2', 'blue', 'dashdot', 1.4, true),
    curve(c4ModelF, c4HardHump, U4, 'y2', LGREEN, 'dashdot', 0.9, true),
    curve(c4ModelF, c4HardLow, U4, 'y2', LGREEN, 'dashdot', 0.9, true),
    bars(freq, c4Soft, c4SoftErr, U5, SOFT_BAR, 'y', 1.5, 20),
    bars(freq, c4Hard, c4HardErr, U4, HARD_BAR, 'y2', 1.5, 21)
  ]
});
subplot({
  L: 523, R: 887, T: 870, B: 1087, bottom: true,
  y: { min: -0.000964, max: 0.00075, ticks: [-0.0008,-0.0006,-0.0004,-0.0002,0,0.0002,0.0004,0.0006], dec: 4 },
  yTitle: CT, legends: [crossLeg],
  datasets: [
    curve(c4ModelF, c4RealFit, U5, 'y', '#000', 'solid', 1.3, true),
    curve(c4ModelF, c4ImagFit, U5, 'y', GREEN, 'solid', 1.3, true),
    curve(c4ModelF, c4RealBlue, U5, 'y', 'blue', 'dash', 1.4, true),
    curve(c4ModelF, c4ImagBlue, U5, 'y', 'blue', 'dashdot', 1.4, true),
    curve(zeroX, zeroY, 1, 'y', 'rgba(40,90,40,0.8)', 'dash', 1.4, false),
    curve(c4ModelF, c4RealHump, U5, 'y', GREY, 'dash', 0.9, true),
    bars(freq, c4Real, c4RealErr, U5, SOFT_BAR, 'y', 1.5, 20),
    bars(freq, c4Imag, c4ImagErr, U5, HARD_BAR, 'y', 1.5, 21)
  ]
});
</script>
</body>
</html>
